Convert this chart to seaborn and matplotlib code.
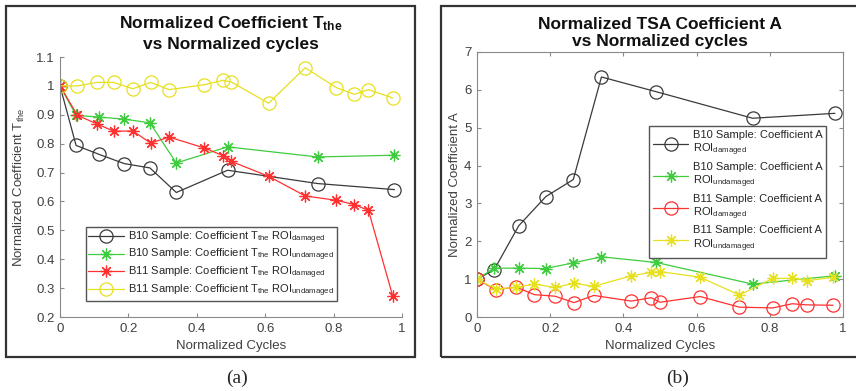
import numpy as np
import pandas as pd
import seaborn as sns
import matplotlib.pyplot as plt
from matplotlib.patches import Rectangle
from matplotlib.ticker import FormatStrFormatter

# normalized cycles
cycles_b10 = [0, 0.047, 0.114, 0.188, 0.263, 0.34, 0.49, 0.753, 0.978]
cycles_b11 = [0, 0.051, 0.107, 0.157, 0.213, 0.265, 0.319, 0.422, 0.476,
              0.5, 0.61, 0.717, 0.808, 0.861, 0.902, 0.973]

# (a) coefficient T_the
t_b10_dam = [1.0, 0.794, 0.763, 0.731, 0.716, 0.631, 0.708, 0.662, 0.641]
t_b10_und = [1.0, 0.898, 0.892, 0.885, 0.872, 0.733, 0.789, 0.754, 0.760]
t_b11_dam = [1.0, 0.898, 0.869, 0.843, 0.844, 0.802, 0.823, 0.785, 0.759,
             0.739, 0.687, 0.619, 0.604, 0.589, 0.569, 0.272]
t_b11_und = [1.0, 1.0, 1.012, 1.012, 0.99, 1.012, 0.987, 1.004, 1.019,
             1.014, 0.94, 1.063, 0.994, 0.971, 0.987, 0.958]

# (b) TSA coefficient A
a_b10_dam = [1.0, 1.25, 2.41, 3.18, 3.63, 6.34, 5.95, 5.25, 5.38]
a_b10_und = [1.0, 1.29, 1.29, 1.28, 1.43, 1.59, 1.44, 0.87, 1.09]
a_b11_dam = [1.0, 0.72, 0.79, 0.59, 0.55, 0.38, 0.57, 0.42, 0.51,
             0.39, 0.54, 0.26, 0.24, 0.35, 0.32, 0.31]
a_b11_und = [1.0, 0.74, 0.78, 0.87, 0.78, 0.89, 0.81, 1.09, 1.18,
             1.2, 1.05, 0.58, 1.02, 1.02, 0.96, 1.05]

sns.set_style("ticks")
plt.rcParams["font.family"] = ["Liberation Sans", "DejaVu Sans"]
plt.rcParams["mathtext.default"] = "regular"

BLACK = "#3a3a3a"
GREEN = "#3fcc3f"
RED = "#ff3030"
YELLOW = "#e6e01e"
STAR = (8, 2, 0)
GREY = "#8a8a8a"
TXT = "#404040"


def series(ax, x, y, color, marker, label):
    df = pd.DataFrame({"x": x, "y": y})
    kw = dict(markersize=9.5, markerfacecolor="none", markeredgewidth=0.9) if marker == "o" \
        else dict(markersize=8.5, markeredgewidth=0.9)
    sns.lineplot(data=df, x="x", y="y", ax=ax, color=color, marker=marker,
                 markeredgecolor=color, linewidth=0.9, sort=False,
                 estimator=None, label=label, **kw)


def style_axes(ax, box):
    for side in ["left", "bottom", "top", "right"]:
        ax.spines[side].set_color(GREY)
        ax.spines[side].set_linewidth(0.8)
        ax.spines[side].set_visible(box or side in ["left", "bottom"])
    ax.tick_params(direction="in", length=3, color=GREY, labelcolor=TXT,
                   labelsize=9.5, top=box, right=box, pad=4)
    ax.set_xlim(0, 1)
    ax.set_xticks(np.arange(0, 1.01, 0.2))
    ax.xaxis.set_major_formatter(FormatStrFormatter("%g"))
    ax.yaxis.set_major_formatter(FormatStrFormatter("%g"))
    ax.set_xlabel("Normalized Cycles", color=TXT, fontsize=9.5, labelpad=4)


fig = plt.figure(figsize=(8.56, 3.91), dpi=100)

# panel frames
fig.patches.append(Rectangle((5.5 / 856, 1 - 357 / 391), 409.5 / 856, 351.5 / 391,
                             transform=fig.transFigure, fill=False,
                             edgecolor="#333333", linewidth=1.6))
fig.patches.append(Rectangle((440.5 / 856, 1 - 357 / 391), 420 / 856, 351.5 / 391,
                             transform=fig.transFigure, fill=False,
                             edgecolor="#333333", linewidth=1.6))

# (a)
ax1 = fig.add_axes([60 / 856, 74 / 391, 342 / 856, 260 / 391])
series(ax1, cycles_b10, t_b10_dam, BLACK, "o",
       "B10 Sample: Coefficient T$_{the}$ ROI$_{damaged}$")
series(ax1, cycles_b10, t_b10_und, GREEN, STAR,
       "B10 Sample: Coefficient T$_{the}$ ROI$_{undamaged}$")
series(ax1, cycles_b11, t_b11_dam, RED, STAR,
       "B11 Sample: Coefficient T$_{the}$ ROI$_{damaged}$")
series(ax1, cycles_b11, t_b11_und, YELLOW, "o",
       "B11 Sample: Coefficient T$_{the}$ ROI$_{undamaged}$")
style_axes(ax1, box=False)
ax1.set_ylim(0.2, 1.1)
ax1.set_yticks(np.arange(0.2, 1.11, 0.1))
ax1.set_ylabel("Normalized Coefficient T$_{the}$", color=TXT, fontsize=9.5, labelpad=6)
ax1.set_title("Normalized Coefficient T$_{the}$\nvs Normalized cycles",
              fontsize=12.5, fontweight="bold", color="#111111", pad=6,
              linespacing=1.3)
ax1.legend(loc="upper left", bbox_to_anchor=(86 / 856, 1 - 227 / 391),
           bbox_transform=fig.transFigure, fontsize=8, handlelength=3.2,
           frameon=True, fancybox=False, framealpha=1, edgecolor="#555555",
           borderpad=0.2, labelspacing=0.12, handletextpad=0.4,
           borderaxespad=0)

# (b)
ax2 = fig.add_axes([477 / 856, 74 / 391, 366 / 856, 265 / 391])
series(ax2, cycles_b10, a_b10_dam, BLACK, "o",
       "B10 Sample: Coefficient A\nROI$_{damaged}$")
series(ax2, cycles_b10, a_b10_und, GREEN, STAR,
       "B10 Sample: Coefficient A\nROI$_{undamaged}$")
series(ax2, cycles_b11, a_b11_dam, RED, "o",
       "B11 Sample: Coefficient A\nROI$_{damaged}$")
series(ax2, cycles_b11, a_b11_und, YELLOW, STAR,
       "B11 Sample: Coefficient A\nROI$_{undamaged}$")
style_axes(ax2, box=True)
ax2.set_ylim(0, 7)
ax2.set_yticks(range(0, 8))
ax2.set_ylabel("Normalized Coefficient A", color=TXT, fontsize=9.5, labelpad=2)
ax2.set_title("Normalized TSA Coefficient A\nvs Normalized cycles",
              fontsize=12.5, fontweight="bold", color="#111111", pad=4,
              linespacing=1.2)
ax2.legend(loc="upper left", bbox_to_anchor=(649 / 856, 1 - 126 / 391),
           bbox_transform=fig.transFigure, fontsize=8, handlelength=3.2,
           frameon=True, fancybox=False, framealpha=1, edgecolor="#555555",
           borderpad=0.35, labelspacing=0.3, handletextpad=0.4,
           borderaxespad=0)

fig.text(237 / 856, 1 - 378 / 391, "(a)", ha="center", va="center",
         fontsize=14, family="Liberation Serif")
fig.text(678 / 856, 1 - 378 / 391, "(b)", ha="center", va="center",
         fontsize=14, family="Liberation Serif")

fig.savefig("out.png", dpi=100)
